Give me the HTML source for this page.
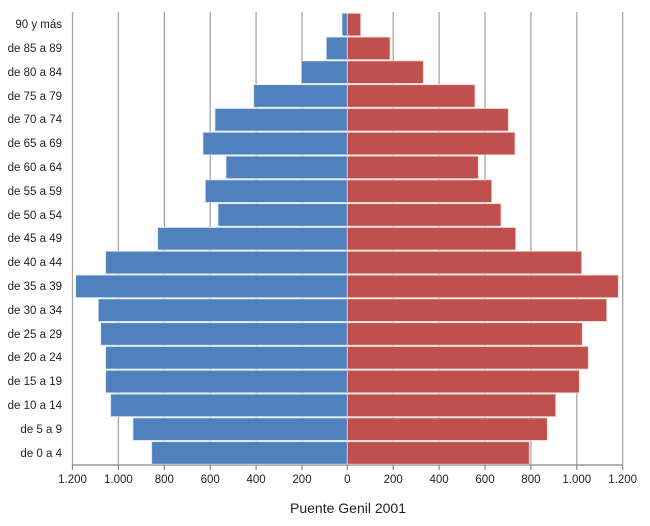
<!DOCTYPE html>
<html><head><meta charset="utf-8"><style>
html,body{margin:0;padding:0;background:#fff;}
svg{display:block;font-family:"Liberation Sans",sans-serif;}
</style></head><body>
<svg width="650" height="526" viewBox="0 0 650 526" xmlns="http://www.w3.org/2000/svg">
<g stroke="#a6a6a6" stroke-width="1.3">
<line x1="72.5" y1="12" x2="72.5" y2="465"/>
<line x1="118.4" y1="12" x2="118.4" y2="465"/>
<line x1="164.3" y1="12" x2="164.3" y2="465"/>
<line x1="210.2" y1="12" x2="210.2" y2="465"/>
<line x1="256.1" y1="12" x2="256.1" y2="465"/>
<line x1="302" y1="12" x2="302" y2="465"/>
<line x1="393.2" y1="12" x2="393.2" y2="465"/>
<line x1="439.1" y1="12" x2="439.1" y2="465"/>
<line x1="485" y1="12" x2="485" y2="465"/>
<line x1="530.9" y1="12" x2="530.9" y2="465"/>
<line x1="576.8" y1="12" x2="576.8" y2="465"/>
<line x1="622.7" y1="12" x2="622.7" y2="465"/>
</g>
<g id="bars" stroke="#dbe6f4" stroke-width="0.8">
</g>
<g stroke="#888" stroke-width="1.2">
<line x1="72" y1="465" x2="623" y2="465"/>
<line x1="72.5" y1="465" x2="72.5" y2="470"/><line x1="118.4" y1="465" x2="118.4" y2="470"/><line x1="164.3" y1="465" x2="164.3" y2="470"/><line x1="210.2" y1="465" x2="210.2" y2="470"/><line x1="256.1" y1="465" x2="256.1" y2="470"/><line x1="302" y1="465" x2="302" y2="470"/><line x1="347.3" y1="465" x2="347.3" y2="470"/><line x1="393.2" y1="465" x2="393.2" y2="470"/><line x1="439.1" y1="465" x2="439.1" y2="470"/><line x1="485" y1="465" x2="485" y2="470"/><line x1="530.9" y1="465" x2="530.9" y2="470"/><line x1="576.8" y1="465" x2="576.8" y2="470"/><line x1="622.7" y1="465" x2="622.7" y2="470"/>
</g>
<g font-size="11.5" fill="#222" text-anchor="middle">
<text x="72.5" y="483">1.200</text><text x="118.4" y="483">1.000</text><text x="164.3" y="483">800</text><text x="210.2" y="483">600</text><text x="256.1" y="483">400</text><text x="302" y="483">200</text><text x="347.3" y="483">0</text><text x="393.2" y="483">200</text><text x="439.1" y="483">400</text><text x="485" y="483">600</text><text x="530.9" y="483">800</text><text x="576.8" y="483">1.000</text><text x="622.7" y="483">1.200</text>
</g>
<text x="348" y="513" font-size="14" fill="#222" text-anchor="middle">Puente Genil 2001</text>
<g font-size="11.5" fill="#222" text-anchor="end">
<text x="62" y="28">90 y más</text>
<text x="62" y="52">de 85 a 89</text>
<text x="62" y="76">de 80 a 84</text>
<text x="62" y="100">de 75 a 79</text>
<text x="62" y="123">de 70 a 74</text>
<text x="62" y="147">de 65 a 69</text>
<text x="62" y="171">de 60 a 64</text>
<text x="62" y="195">de 55 a 59</text>
<text x="62" y="219">de 50 a 54</text>
<text x="62" y="242">de 45 a 49</text>
<text x="62" y="266">de 40 a 44</text>
<text x="62" y="290">de 35 a 39</text>
<text x="62" y="314">de 30 a 34</text>
<text x="62" y="338">de 25 a 29</text>
<text x="62" y="361">de 20 a 24</text>
<text x="62" y="385">de 15 a 19</text>
<text x="62" y="409">de 10 a 14</text>
<text x="62" y="433">de 5 a 9</text>
<text x="62" y="457">de 0 a 4</text>
</g>
<g>
<!-- rows: top = 13.3 + 23.8*i, height 22.5 -->
<g fill="#4f81bd" stroke="#d6e4f5" stroke-width="0.8">
<rect x="342" y="13.3" width="5.3" height="22.5"/>
<rect x="326.3" y="37.1" width="21" height="22.5"/>
<rect x="301.3" y="60.9" width="46" height="22.5"/>
<rect x="253.7" y="84.7" width="93.6" height="22.5"/>
<rect x="215" y="108.5" width="132.3" height="22.5"/>
<rect x="203" y="132.3" width="144.3" height="22.5"/>
<rect x="226" y="156.1" width="121.3" height="22.5"/>
<rect x="205.3" y="179.9" width="142" height="22.5"/>
<rect x="218" y="203.7" width="129.3" height="22.5"/>
<rect x="157.7" y="227.5" width="189.6" height="22.5"/>
<rect x="105.7" y="251.3" width="241.6" height="22.5"/>
<rect x="75.7" y="275.1" width="271.6" height="22.5"/>
<rect x="98.3" y="298.9" width="249" height="22.5"/>
<rect x="100.7" y="322.7" width="246.6" height="22.5"/>
<rect x="105.7" y="346.5" width="241.6" height="22.5"/>
<rect x="105.7" y="370.3" width="241.6" height="22.5"/>
<rect x="110.7" y="394.1" width="236.6" height="22.5"/>
<rect x="133" y="417.9" width="214.3" height="22.5"/>
<rect x="151.7" y="441.7" width="195.6" height="22.5"/>
</g>
<g fill="#c0504d" stroke="#f3d3d1" stroke-width="0.8">
<rect x="347.3" y="13.3" width="13.4" height="22.5"/>
<rect x="347.3" y="37.1" width="42.7" height="22.5"/>
<rect x="347.3" y="60.9" width="76" height="22.5"/>
<rect x="347.3" y="84.7" width="127.7" height="22.5"/>
<rect x="347.3" y="108.5" width="161" height="22.5"/>
<rect x="347.3" y="132.3" width="167.7" height="22.5"/>
<rect x="347.3" y="156.1" width="131" height="22.5"/>
<rect x="347.3" y="179.9" width="144.4" height="22.5"/>
<rect x="347.3" y="203.7" width="153.7" height="22.5"/>
<rect x="347.3" y="227.5" width="168.4" height="22.5"/>
<rect x="347.3" y="251.3" width="234.4" height="22.5"/>
<rect x="347.3" y="275.1" width="271" height="22.5"/>
<rect x="347.3" y="298.9" width="259.4" height="22.5"/>
<rect x="347.3" y="322.7" width="235" height="22.5"/>
<rect x="347.3" y="346.5" width="241" height="22.5"/>
<rect x="347.3" y="370.3" width="232" height="22.5"/>
<rect x="347.3" y="394.1" width="208.4" height="22.5"/>
<rect x="347.3" y="417.9" width="200" height="22.5"/>
<rect x="347.3" y="441.7" width="182" height="22.5"/>
</g>
</g>
</svg>
</body></html>
